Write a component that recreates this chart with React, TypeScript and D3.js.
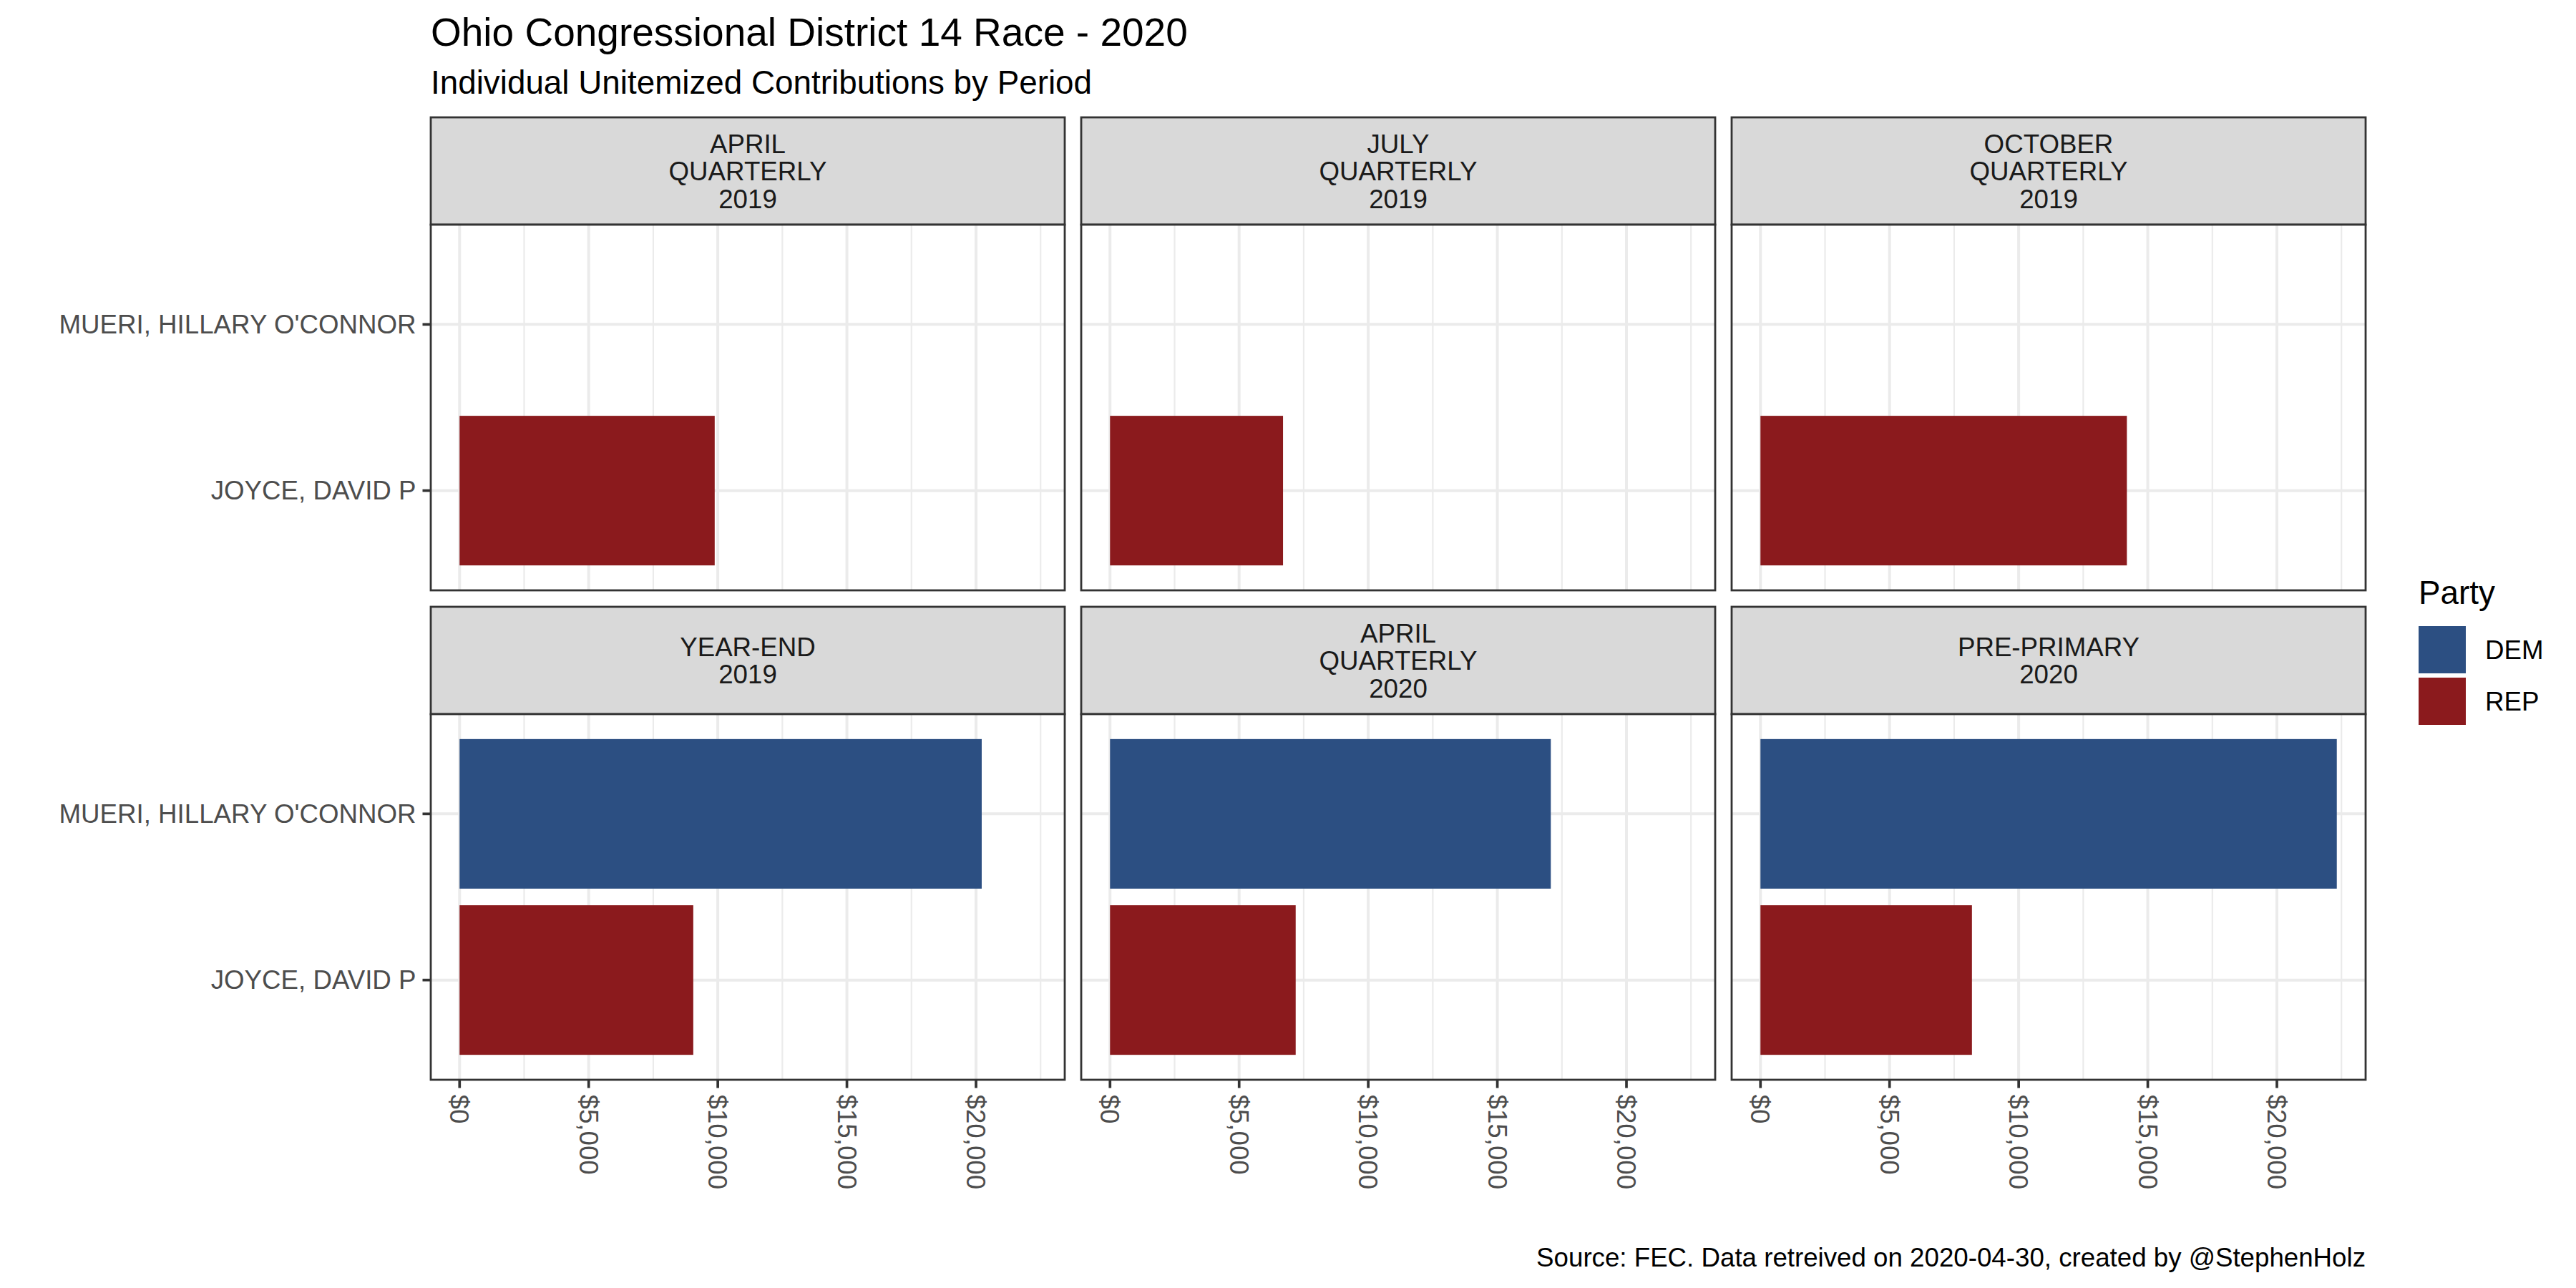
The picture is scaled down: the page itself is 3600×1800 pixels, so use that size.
import React from "react";
import * as d3 from "d3";

// facet labels, one entry per period (lines of the strip)
const periods: string[][] = [
  ["APRIL", "QUARTERLY", "2019"],
  ["JULY", "QUARTERLY", "2019"],
  ["OCTOBER", "QUARTERLY", "2019"],
  ["YEAR-END", "2019"],
  ["APRIL", "QUARTERLY", "2020"],
  ["PRE-PRIMARY", "2020"],
];

const candidates = ["MUERI, HILLARY O'CONNOR", "JOYCE, DAVID P"];
const candidateParty = ["DEM", "REP"];

// unitemized contributions per period ($)
const mueriValues: (number | null)[] = [null, null, null, 20220, 17070, 22320];
const joyceValues: (number | null)[] = [9880, 6700, 14190, 9050, 7190, 8190];

const parties = ["DEM", "REP"];
const partyColors = ["#2C4F82", "#8B1A1D"];

const title = "Ohio Congressional District 14 Race - 2020";
const subtitle = "Individual Unitemized Contributions by Period";
const caption = "Source: FEC. Data retreived on 2020-04-30, created by @StephenHolz";

const FONT = "'Liberation Sans', Arial, sans-serif";

export default function App() {
  const width = 3600,
    height = 1800;

  // layout
  const left = 602,
    panelW = 886,
    gapX = 23,
    stripTop = 164,
    stripH = 150,
    panelH = 511,
    gapY = 23;

  const series = [mueriValues, joyceValues];
  const maxVal = d3.max(series.flat(), (d) => (d == null ? 0 : d)) as number;

  const x = d3
    .scaleLinear()
    .domain([-0.05 * maxVal, maxVal * 1.05])
    .range([0, panelW]);
  const majors = x.ticks(5).filter((t) => t >= 0);
  const minors = majors
    .map((t, i) => (i < majors.length - 1 ? (t + majors[i + 1]) / 2 : t + (t - majors[i - 1]) / 2))
    .filter((t) => t <= x.domain()[1]);

  const y = d3
    .scaleBand<string>()
    .domain(candidates)
    .range([0, panelH])
    .paddingInner(0.1)
    .paddingOuter(0.15);

  const color = d3.scaleOrdinal<string, string>().domain(parties).range(partyColors);
  const fmt = d3.format("$,");

  const border = "#333333";
  const grid = "#EBEBEB";

  return (
    <svg
      width={width}
      height={height}
      style={{ position: "absolute", left: 0, top: 0, background: "#fff" }}
      fontFamily={FONT}
    >
      <rect width={width} height={height} fill="#fff" />
      <text x={left} y={64} fontSize={55} fill="#000">
        {title}
      </text>
      <text x={left} y={131} fontSize={45.8} fill="#000">
        {subtitle}
      </text>

      {periods.map((lines, i) => {
        const col = i % 3,
          row = Math.floor(i / 3);
        const px = left + col * (panelW + gapX);
        const sy = stripTop + row * (stripH + panelH + gapY);
        const py = sy + stripH;
        const mid = sy + stripH / 2;
        const lh = 38.5;
        return (
          <g key={i}>
            {/* strip */}
            <rect x={px} y={sy} width={panelW} height={stripH} fill="#D9D9D9" stroke={border} strokeWidth={2.8} />
            {lines.map((l, j) => (
              <text
                key={j}
                x={px + panelW / 2}
                y={mid + (j - (lines.length - 1) / 2) * lh + 13}
                fontSize={36.7}
                fill="#1A1A1A"
                textAnchor="middle"
              >
                {l}
              </text>
            ))}
            {/* panel */}
            <g transform={`translate(${px},${py})`}>
              <rect width={panelW} height={panelH} fill="#fff" />
              {minors.map((t) => (
                <line key={"mi" + t} x1={x(t)} x2={x(t)} y1={0} y2={panelH} stroke={grid} strokeWidth={2.2} />
              ))}
              {majors.map((t) => (
                <line key={"ma" + t} x1={x(t)} x2={x(t)} y1={0} y2={panelH} stroke={grid} strokeWidth={4} />
              ))}
              {candidates.map((c) => {
                const cy = (y(c) as number) + y.bandwidth() / 2;
                return <line key={c} x1={0} x2={panelW} y1={cy} y2={cy} stroke={grid} strokeWidth={4} />;
              })}
              {candidates.map((c, k) => {
                const v = series[k][i];
                if (v == null) return null;
                return (
                  <rect
                    key={c}
                    x={x(0)}
                    y={y(c)}
                    width={x(v) - x(0)}
                    height={y.bandwidth()}
                    fill={color(candidateParty[k])}
                  />
                );
              })}
              <rect width={panelW} height={panelH} fill="none" stroke={border} strokeWidth={2.8} />

              {/* y axis on first column */}
              {col === 0 &&
                candidates.map((c) => {
                  const cy = (y(c) as number) + y.bandwidth() / 2;
                  return (
                    <g key={"ya" + c}>
                      <line x1={-11.5} x2={0} y1={cy} y2={cy} stroke={border} strokeWidth={3.7} />
                      <text x={-20.5} y={cy} dy="0.35em" fontSize={36.7} fill="#4D4D4D" textAnchor="end">
                        {c}
                      </text>
                    </g>
                  );
                })}

              {/* x axis on bottom row */}
              {row === 1 &&
                majors.map((t) => (
                  <g key={"xa" + t}>
                    <line x1={x(t)} x2={x(t)} y1={panelH} y2={panelH + 11.5} stroke={border} strokeWidth={3.7} />
                    <text
                      transform={`translate(${x(t)},${panelH + 20.5}) rotate(90)`}
                      dy="0.35em"
                      fontSize={36.7}
                      fill="#4D4D4D"
                      textAnchor="start"
                    >
                      {fmt(t)}
                    </text>
                  </g>
                ))}
            </g>
          </g>
        );
      })}

      {/* legend */}
      <g transform="translate(3380,0)">
        <text x={0} y={844} fontSize={45.8} fill="#000">
          Party
        </text>
        {parties.map((p, k) => {
          const ky = 875 + k * 72;
          return (
            <g key={p}>
              <rect x={0} y={ky} width={66} height={66} fill={color(p)} />
              <text x={93} y={ky + 33} dy="0.35em" fontSize={36.7} fill="#000">
                {p}
              </text>
            </g>
          );
        })}
      </g>

      <text x={3306} y={1770} fontSize={36.7} fill="#000" textAnchor="end">
        {caption}
      </text>
    </svg>
  );
}
